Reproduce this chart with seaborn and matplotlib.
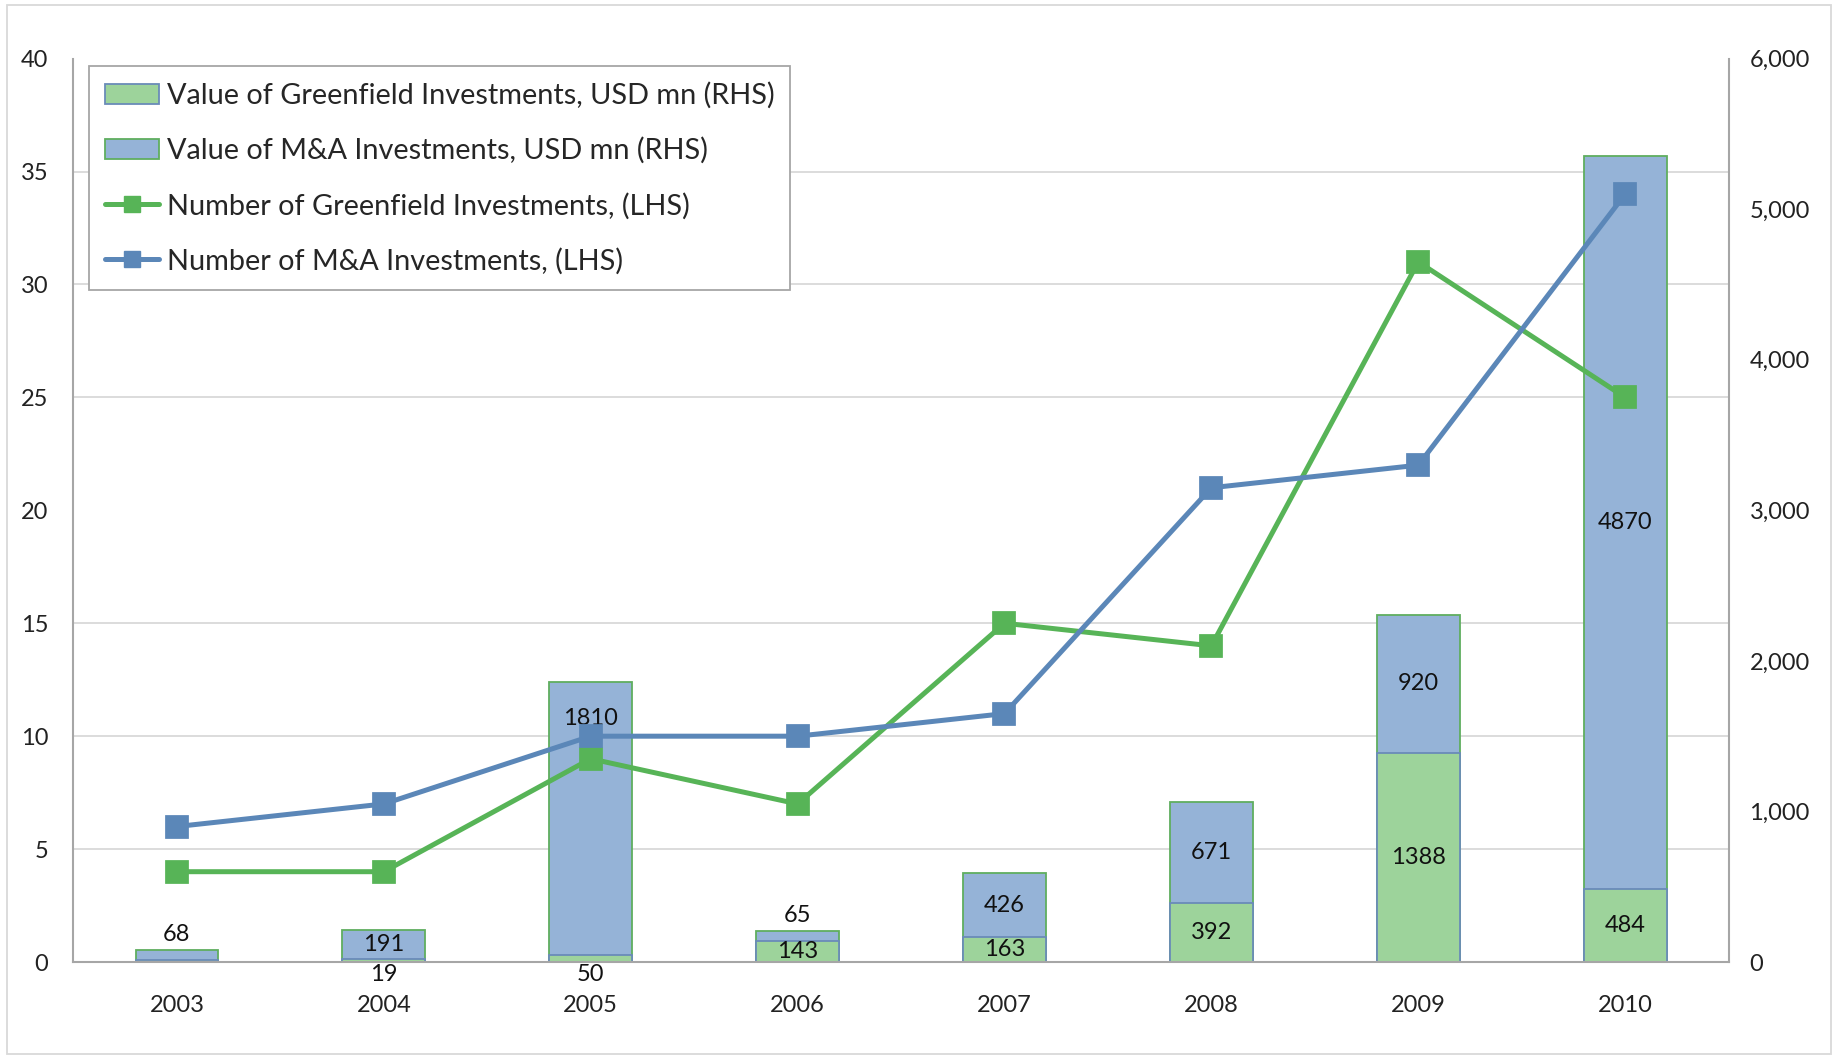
import numpy as np
import matplotlib
matplotlib.use("Agg")
import matplotlib.pyplot as plt
from matplotlib.patches import Patch, Rectangle
from matplotlib.lines import Line2D
from matplotlib.ticker import FuncFormatter
import seaborn as sns

years = ["2003", "2004", "2005", "2006", "2007", "2008", "2009", "2010"]
greenfield_value = [12, 19, 50, 143, 163, 392, 1388, 484]
mna_value = [68, 191, 1810, 65, 426, 671, 920, 4870]
greenfield_count = [4, 4, 9, 7, 15, 14, 31, 25]
mna_count = [6, 7, 10, 10, 11, 21, 22, 34]

# where Excel put each data label
greenfield_label_pos = ["none", "below", "below", "center", "center", "center", "center", "center"]
mna_label_pos = ["above", "center", "top", "above", "center", "center", "center", "center"]

GREEN_FILL = "#9DD39B"
BLUE_FILL = "#95B3D7"
GREEN_EDGE = "#5FAE5F"
BLUE_EDGE = "#6A8BB8"
GREEN_LINE = "#57B457"
BLUE_LINE = "#5B87B8"
AXIS_GRAY = "#A6A6A6"
GRID_GRAY = "#D9D9D9"

sns.set_style("white")
plt.rcParams["font.family"] = ["Lato", "DejaVu Sans"]

fig, ax = plt.subplots(figsize=(18.37, 10.58), dpi=100)
fig.subplots_adjust(left=0.040, right=0.941, top=0.9446, bottom=0.0907)

total_value = [g + m for g, m in zip(greenfield_value, mna_value)]

# stacked bars: draw the totals in blue, then the greenfield part over them
sns.barplot(x=years, y=total_value, color=BLUE_FILL, saturation=1, width=0.4,
            edgecolor=GREEN_EDGE, linewidth=1.3, errorbar=None, ax=ax)
sns.barplot(x=years, y=greenfield_value, color=GREEN_FILL, saturation=1, width=0.4,
            edgecolor=BLUE_EDGE, linewidth=1.3, errorbar=None, ax=ax)


def put_label(i, value, bottom, mode):
    if mode == "none":
        return
    top = bottom + value
    if mode == "center":
        xy, off = (i, bottom + value / 2), 0
    elif mode == "above":
        xy, off = (i, top), 11
    elif mode == "below":
        xy, off = (i, 0), -9
    else:
        xy, off = (i, top), -26
    ax.annotate(str(value), xy=xy, xytext=(0, off), textcoords="offset points",
                ha="center", va="center", fontsize=17, color="#111111")


for i in range(len(years)):
    put_label(i, greenfield_value[i], 0, greenfield_label_pos[i])
    put_label(i, mna_value[i], greenfield_value[i], mna_label_pos[i])

# number of investments on the left axis
ax2 = ax.twinx()
sns.pointplot(x=years, y=greenfield_count, color=GREEN_LINE, markers="s",
              errorbar=None, markersize=14, linewidth=3.6, ax=ax2)
sns.pointplot(x=years, y=mna_count, color=BLUE_LINE, markers="s",
              errorbar=None, markersize=14, linewidth=3.6, ax=ax2)
ax2.set_ylim(0, 40)
ax2.set_xlim(-0.5, len(years) - 0.5)
ax2.yaxis.tick_left()
ax2.yaxis.set_major_locator(plt.MultipleLocator(5))
ax2.tick_params(axis="y", length=0, labelsize=17, pad=18, colors="#222222")
ax2.set_ylabel("")
ax2.set_xlabel("")
for s in ax2.spines.values():
    s.set_visible(False)

# bar axis (value) goes on the right
ax.set_ylim(0, 6000)
ax.set_xlim(-0.5, len(years) - 0.5)
ax.yaxis.tick_right()
ax.yaxis.set_major_locator(plt.MultipleLocator(1000))
ax.yaxis.set_major_formatter(FuncFormatter(lambda v, p: f"{int(v):,}"))
ax.set_yticks(np.linspace(0, 6000, 9), minor=True)
ax.grid(which="minor", axis="y", color=GRID_GRAY, lw=1.3)
ax.grid(which="major", visible=False)
ax.set_axisbelow(True)
ax.tick_params(axis="y", which="both", length=0, labelsize=17, pad=15, colors="#222222",
               left=False, labelleft=False, right=True, labelright=True)
ax.tick_params(axis="x", length=0, labelsize=17, pad=24, colors="#222222")
ax.set_xlabel("")
ax.set_ylabel("")
for side in ["left", "bottom", "right"]:
    ax.spines[side].set_color(AXIS_GRAY)
    ax.spines[side].set_linewidth(1.5)
ax.spines["top"].set_visible(False)

handles = [
    Patch(facecolor=GREEN_FILL, edgecolor=BLUE_EDGE, lw=1.3),
    Patch(facecolor=BLUE_FILL, edgecolor=GREEN_EDGE, lw=1.3),
    Line2D([], [], color=GREEN_LINE, lw=3.6, marker="s", markersize=12),
    Line2D([], [], color=BLUE_LINE, lw=3.6, marker="s", markersize=12),
]
labels = [
    "Value of Greenfield Investments, USD mn (RHS)",
    "Value of M&A Investments, USD mn (RHS)",
    "Number of Greenfield Investments, (LHS)",
    "Number of M&A Investments, (LHS)",
]
leg = ax2.legend(handles, labels, loc="upper left", bbox_to_anchor=(0.0092, 0.9916),
                 borderaxespad=0, fontsize=20.8, frameon=True, fancybox=False,
                 framealpha=1, edgecolor=AXIS_GRAY, handlelength=1.9, handleheight=0.7,
                 handletextpad=0.25, labelspacing=0.98, borderpad=0.55)
leg.get_frame().set_linewidth(1.3)

fig.patches.append(Rectangle((0.004, 0.004), 0.993, 0.991, transform=fig.transFigure,
                             fill=False, edgecolor=GRID_GRAY, lw=1.3))

fig.savefig("out.png", dpi=100)
